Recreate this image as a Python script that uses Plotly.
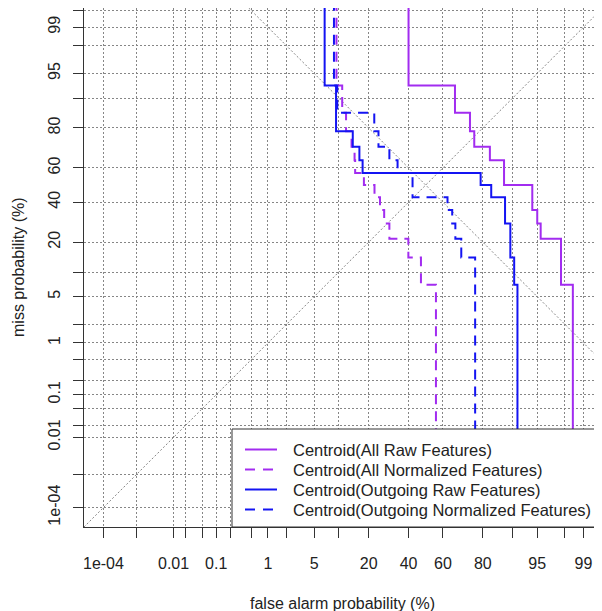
import plotly.graph_objects as go
from statistics import NormalDist

# ---------------- data (percent) ----------------
# DET operating points, drawn as steps (vertical then horizontal)
all_raw_fa = [40.0, 66.7, 74.3, 76.3, 82.8, 87.6, 94.2, 95.0, 95.5, 97.7, 98.5, 98.5]
all_raw_miss = [99.99, 92.9, 85.7, 78.6, 71.4, 64.3, 50.0, 35.7, 28.6, 21.4, 7.1, 0.00001]

all_norm_fa = [9.4, 10.9, 12.0, 13.7, 14.7, 14.9, 18.1, 22.5, 25.0, 27.0, 29.6, 39.9, 47.2, 56.0, 56.0]
all_norm_miss = [99.99, 92.9, 85.7, 78.6, 71.4, 64.3, 57.1, 50.0, 42.9, 35.7, 28.6, 21.4, 14.3, 7.1, 0.00001]

out_raw_fa = [6.8, 9.3, 14.1, 16.4, 17.6, 79.1, 83.3, 87.9, 89.4, 90.4, 91.2, 91.2]
out_raw_miss = [99.99, 92.9, 78.6, 71.4, 64.3, 57.1, 50.0, 42.9, 28.6, 14.3, 7.1, 0.00001]

out_norm_fa = [8.8, 9.6, 22.4, 24.3, 29.6, 33.9, 42.3, 62.6, 65.2, 66.9, 70.0, 76.7, 76.7]
out_norm_miss = [99.99, 92.9, 85.7, 78.6, 71.4, 64.3, 57.1, 42.9, 35.7, 28.6, 21.4, 14.3, 0.00001]

series_names = ["Centroid(All Raw Features)", "Centroid(All Normalized Features)",
                "Centroid(Outgoing Raw Features)", "Centroid(Outgoing Normalized Features)"]

grid_pct = [1e-4, 1e-3, 0.01, 0.02, 0.05, 0.1, 0.2, 0.5, 1, 2, 5, 10, 20, 40,
            60, 80, 90, 95, 98, 99, 99.5]
tick_labels = {1e-4: "1e-04", 0.01: "0.01", 0.1: "0.1", 1: "1", 5: "5", 20: "20",
               40: "40", 60: "60", 80: "80", 95: "95", 99: "99"}

# ---------------- probit scale ----------------
nd = NormalDist()
def probit(vals):
    return [nd.inv_cdf(v / 100.0) for v in vals]

ZMIN, ZMAX_X, ZMAX_Y = -5.04, 2.60, 2.61
PURPLE = "#A22CF0"
BLUE = "#1414F2"
GRID = "#868686"
FONT = "Liberation Sans, Arial, sans-serif"
TXT = "#222222"

fig = go.Figure()

# reference diagonals
fig.add_trace(go.Scatter(x=[ZMIN, ZMAX_Y], y=[ZMIN, ZMAX_Y], mode="lines",
                         line=dict(color=GRID, width=1, dash="2px,2px"),
                         showlegend=False, hoverinfo="skip"))
fig.add_trace(go.Scatter(x=[-ZMAX_Y, -ZMIN], y=[ZMAX_Y, ZMIN], mode="lines",
                         line=dict(color=GRID, width=1, dash="2px,2px"),
                         showlegend=False, hoverinfo="skip"))

curves = [
    (all_raw_fa, all_raw_miss, PURPLE, "solid"),
    (all_norm_fa, all_norm_miss, PURPLE, "10px,7px"),
    (out_raw_fa, out_raw_miss, BLUE, "solid"),
    (out_norm_fa, out_norm_miss, BLUE, "10px,7px"),
]
for (fa, miss, col, dash), name in zip(curves, series_names):
    fig.add_trace(go.Scatter(x=probit(fa), y=probit(miss), mode="lines",
                             line=dict(color=col, width=2, dash=dash, shape="vh"),
                             name=name, showlegend=False))

tickvals = probit(grid_pct)
ticktext = [tick_labels.get(p, "") for p in grid_pct]

axis_common = dict(tickvals=tickvals, ticktext=ticktext, showgrid=True,
                   gridcolor=GRID, griddash="2px,2px", gridwidth=1,
                   ticks="outside", ticklen=10, tickcolor="#333333", tickwidth=1,
                   showline=True, mirror=True, linecolor="#333333", linewidth=1,
                   zeroline=False, tickfont=dict(family=FONT, size=16, color=TXT),
                   automargin=False)
fig.update_xaxes(range=[ZMIN, ZMAX_X], ticklabelstandoff=12, **axis_common)
fig.update_yaxes(range=[ZMIN, ZMAX_Y], tickangle=-90, ticklabelstandoff=7, **axis_common)

# page body has an 8px margin: figure sits at (8, 8)
OFF = 8
W, H = 594, 603
L, R, T, B = 76, 0, 0, 84
pw, ph = W - L - R, H - T - B
def px(xabs): return (xabs - OFF - L) / pw
def py(yabs): return (H - B - (yabs - OFF)) / ph

# legend (drawn manually to match the reference layout)
shapes = [dict(type="rect", xref="paper", yref="paper", x0=px(232), x1=1.0,
               y0=0, y1=py(429), fillcolor="white", line=dict(color="#333333", width=1),
               layer="above")]
annotations = []
rows = [449.5, 469.5, 489.5, 509.5]
styles = [(PURPLE, "solid"), (PURPLE, "dash"), (BLUE, "solid"), (BLUE, "dash")]
for r, (col, d), name in zip(rows, styles, series_names):
    if d == "solid":
        shapes.append(dict(type="line", xref="paper", yref="paper", x0=px(245), x1=px(277),
                           y0=py(r), y1=py(r), line=dict(color=col, width=2), layer="above"))
    else:
        for a, b in [(245, 255), (263, 273)]:
            shapes.append(dict(type="line", xref="paper", yref="paper", x0=px(a), x1=px(b),
                               y0=py(r), y1=py(r), line=dict(color=col, width=2), layer="above"))
    annotations.append(dict(text=name, xref="paper", yref="paper", x=px(291), y=py(r),
                            xanchor="left", yanchor="middle", showarrow=False,
                            font=dict(family=FONT, size=16.5, color=TXT)))

annotations.append(dict(text="false alarm probability (%)", xref="paper", yref="paper",
                        x=px(342), y=py(603), xanchor="center", yanchor="middle", showarrow=False,
                        font=dict(family=FONT, size=16, color=TXT)))
annotations.append(dict(text="miss probability (%)", xref="paper", yref="paper",
                        x=px(18), y=py(267), xanchor="center", yanchor="middle", showarrow=False,
                        textangle=-90, font=dict(family=FONT, size=16, color=TXT)))

fig.update_layout(width=W, height=H, margin=dict(l=L, r=R, t=T, b=B),
                  paper_bgcolor="white", plot_bgcolor="white", showlegend=False,
                  shapes=shapes, annotations=annotations)

fig.write_html("out.html")
